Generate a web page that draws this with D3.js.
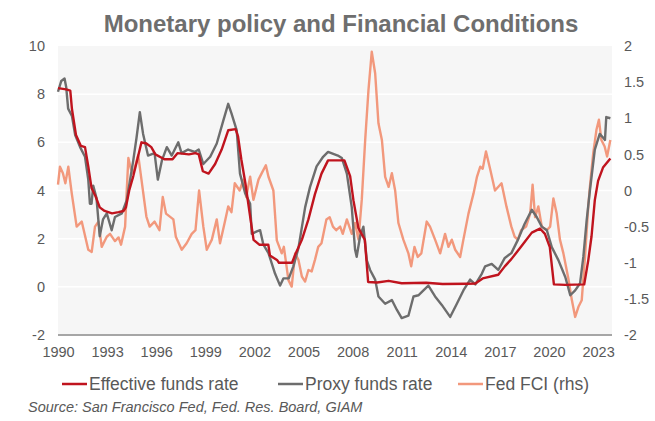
<!DOCTYPE html>
<html>
<head>
<meta charset="utf-8">
<script src="https://cdn.jsdelivr.net/npm/d3@7"></script>
<style>
  html, body { margin: 0; padding: 0; background: #ffffff; }
  svg { display: block; font-family: "Liberation Sans", Arial, sans-serif; }
</style>
</head>
<body>
<svg id="chart" width="655" height="421"></svg>
<script>
// Axis ticks
const yearTicks = [1990, 1993, 1996, 1999, 2002, 2005, 2008, 2011, 2014, 2017, 2020, 2023];
const leftTicks = [-2, 0, 2, 4, 6, 8, 10];
const rightTicks = [-2, -1.5, -1, -0.5, 0, 0.5, 1, 1.5, 2];

// Effective federal funds rate (%, left axis)
const effDates = [1990.0, 1990.5, 1990.75, 1990.85, 1991.1, 1991.4, 1991.65, 1991.85, 1992.05, 1992.3,
  1992.55, 1992.85, 1993.3, 1993.7, 1994.0, 1994.15, 1994.35, 1994.6, 1994.85, 1995.1,
  1995.4, 1995.7, 1995.95, 1996.5, 1997.0, 1997.3, 1998.0, 1998.4, 1998.6, 1998.85,
  1999.2, 1999.6, 2000.0, 2000.4, 2000.85, 2001.0, 2001.2, 2001.45, 2001.7, 2001.95,
  2002.3, 2002.85, 2002.95, 2003.4, 2003.5, 2004.3, 2004.5, 2004.9, 2005.3, 2005.7,
  2006.1, 2006.5, 2007.5, 2007.85, 2008.05, 2008.35, 2008.75, 2008.95, 2009.5, 2010.2,
  2011.0, 2012.5, 2013.5, 2015.0, 2015.5, 2015.95, 2016.9, 2017.3, 2017.7, 2018.1,
  2018.5, 2018.95, 2019.45, 2019.75, 2020.05, 2020.3, 2021.0, 2022.15, 2022.4, 2022.6,
  2022.8, 2023.0, 2023.3, 2023.75];
const effValues = [8.25, 8.2, 8.15, 7.4, 6.3, 5.85, 5.8, 5.0, 4.1, 3.75,
  3.3, 3.15, 3.05, 3.1, 3.15, 3.3, 4.0, 4.6, 5.3, 6.0,
  5.95, 5.8, 5.5, 5.3, 5.3, 5.55, 5.5, 5.55, 5.5, 4.8,
  4.7, 5.1, 5.7, 6.5, 6.55, 6.25, 5.3, 4.3, 3.1, 1.95,
  1.75, 1.75, 1.3, 1.1, 1.0, 1.0, 1.35, 1.95, 2.8, 3.85,
  4.7, 5.25, 5.25, 4.6, 3.6, 2.45, 1.95, 0.2, 0.18, 0.25,
  0.15, 0.17, 0.12, 0.13, 0.14, 0.35, 0.5, 0.85, 1.15, 1.5,
  1.85, 2.25, 2.42, 2.2, 1.65, 0.1, 0.08, 0.1, 1.1, 2.1,
  3.6, 4.4, 4.95, 5.33];

// Proxy funds rate (%, left axis)
const proxyDates = [1990.0, 1990.2, 1990.4, 1990.5, 1990.62, 1990.85, 1991.05, 1991.35, 1991.65, 1991.85,
  1991.95, 1992.05, 1992.15, 1992.35, 1992.55, 1992.75, 1992.98, 1993.28, 1993.48, 1993.9,
  1994.2, 1994.6, 1994.8, 1995.0, 1995.2, 1995.5, 1995.9, 1996.1, 1996.35, 1996.65,
  1996.95, 1997.35, 1997.55, 1997.95, 1998.35, 1998.6, 1998.88, 1999.3, 1999.7, 2000.1,
  2000.4, 2000.6, 2000.92, 2001.12, 2001.43, 2001.74, 2001.84, 2002.15, 2002.35, 2002.55,
  2002.86, 2003.26, 2003.57, 2003.77, 2004.1, 2004.38, 2004.69, 2005.1, 2005.4, 2005.8,
  2006.2, 2006.5, 2007.1, 2007.34, 2007.65, 2007.95, 2008.15, 2008.25, 2008.46, 2008.66,
  2008.87, 2009.07, 2009.38, 2009.58, 2009.99, 2010.4, 2010.7, 2011.0, 2011.41, 2011.72,
  2012.02, 2012.33, 2012.63, 2013.04, 2013.45, 2013.96, 2014.37, 2014.77, 2015.18, 2015.5,
  2015.9, 2016.1, 2016.5, 2016.9, 2017.3, 2017.7, 2018.1, 2018.5, 2018.95, 2019.25,
  2019.56, 2019.87, 2020.17, 2020.58, 2021.0, 2021.3, 2021.6, 2021.9, 2022.1, 2022.3,
  2022.5, 2022.8, 2023.1, 2023.3, 2023.42, 2023.5, 2023.75];
const proxyValues = [8.1, 8.55, 8.65, 8.3, 7.4, 7.1, 6.3, 5.8, 5.4, 4.45,
  3.45, 3.45, 4.2, 3.7, 2.1, 2.8, 3.05, 2.35, 2.9, 3.05,
  3.6, 5.25, 6.2, 7.25, 6.35, 5.45, 5.55, 4.45, 5.25, 5.8,
  5.45, 6.0, 5.55, 5.7, 5.6, 5.7, 5.1, 5.4, 5.95, 6.9,
  7.6, 7.2, 6.5, 4.7, 3.9, 3.45, 2.2, 2.3, 2.35, 1.75,
  1.4, 0.55, 0.05, 0.35, 0.35, 0.85, 1.6, 3.3, 4.15, 5.0,
  5.4, 5.6, 5.45, 5.35, 4.7, 3.3, 1.55, 1.25, 2.1, 2.5,
  1.1, 0.7, 0.3, -0.4, -0.7, -0.55, -0.95, -1.3, -1.2, -0.4,
  -0.35, -0.15, 0.05, -0.4, -0.75, -1.25, -0.7, -0.15, 0.3, 0.1,
  0.55, 0.85, 0.95, 0.7, 1.2, 1.4, 1.95, 2.6, 3.2, 2.9,
  2.5, 2.35, 1.65, 1.1, 0.4, -0.35, -0.15, 0.15, 1.25, 2.75,
  4.0, 5.7, 6.35, 6.2, 6.1, 7.05, 7.0];

// Fed financial conditions index (right axis)
const fciDates = [1990.0, 1990.12, 1990.3, 1990.45, 1990.63, 1990.84, 1991.14, 1991.45, 1991.85, 1992.06,
  1992.26, 1992.47, 1992.67, 1992.98, 1993.18, 1993.48, 1993.7, 1993.85, 1994.1, 1994.2,
  1994.3, 1994.45, 1994.6, 1994.9, 1995.1, 1995.4, 1995.6, 1995.9, 1996.2, 1996.4,
  1996.6, 1997.05, 1997.2, 1997.56, 1997.86, 1998.17, 1998.4, 1998.62, 1998.88, 1999.09,
  1999.4, 1999.7, 1999.9, 2000.2, 2000.4, 2000.6, 2000.8, 2001.1, 2001.33, 2001.5,
  2001.74, 2001.94, 2002.25, 2002.45, 2002.7, 2002.86, 2003.16, 2003.37, 2003.67, 2003.8,
  2004.08, 2004.28, 2004.49, 2004.69, 2004.9, 2005.1, 2005.3, 2005.5, 2005.7, 2005.9,
  2006.1, 2006.4, 2006.6, 2006.8, 2007.0, 2007.24, 2007.4, 2007.65, 2007.95, 2008.15,
  2008.36, 2008.56, 2008.77, 2008.97, 2009.17, 2009.38, 2009.58, 2009.79, 2009.99, 2010.2,
  2010.4, 2010.6, 2010.8, 2011.1, 2011.41, 2011.58, 2011.78, 2011.98, 2012.2, 2012.53,
  2012.73, 2013.04, 2013.35, 2013.65, 2013.86, 2014.06, 2014.27, 2014.57, 2014.77, 2015.08,
  2015.39, 2015.6, 2015.8, 2015.95, 2016.15, 2016.4, 2016.7, 2017.1, 2017.4, 2017.7,
  2017.9, 2018.1, 2018.3, 2018.6, 2018.85, 2019.0, 2019.15, 2019.35, 2019.56, 2019.87,
  2020.07, 2020.27, 2020.47, 2020.67, 2020.88, 2021.2, 2021.4, 2021.6, 2021.8, 2022.0,
  2022.2, 2022.4, 2022.5, 2022.7, 2022.9, 2023.05, 2023.2, 2023.4, 2023.55, 2023.75];
const fciValues = [0.08, 0.33, 0.24, 0.1, 0.33, -0.04, -0.5, -0.43, -0.82, -0.85,
  -0.5, -0.43, -0.78, -0.64, -0.6, -0.7, -0.65, -0.75, -0.5, 0.0,
  0.45, 0.3, 0.24, 0.49, 0.15, -0.36, -0.5, -0.43, -0.55, -0.09,
  -0.32, -0.4, -0.64, -0.82, -0.73, -0.6, -0.55, 0.0, -0.5, -0.82,
  -0.68, -0.4, -0.73, -0.43, -0.22, -0.3, 0.1, 0.0, 0.15, -0.09,
  0.19, -0.13, 0.15, 0.24, 0.35, 0.19, 0.0, -0.69, -0.87, -0.78,
  -1.24, -1.33, -0.87, -0.96, -1.19, -1.26, -1.1, -1.12, -0.96, -0.78,
  -0.73, -0.4, -0.37, -0.5, -0.55, -0.5, -0.6, -0.4, -0.6, -0.45,
  -0.68, -0.13, 0.7, 1.39, 1.92, 1.62, 0.93, 0.7, 0.19, 0.05,
  0.24, 0.0, -0.45, -0.68, -0.87, -1.05, -0.78, -0.92, -0.87, -0.43,
  -0.5, -0.68, -0.87, -0.6, -0.78, -0.68, -0.82, -0.92, -0.68, -0.32,
  -0.04, 0.19, 0.33, 0.3, 0.54, 0.3, 0.0, 0.1, -0.22, -0.5,
  -0.64, -0.68, -0.55, -0.5, -0.32, 0.08, -0.37, -0.22, -0.5, -0.55,
  -0.5, -0.11, -0.32, -0.68, -0.87, -1.24, -1.52, -1.75, -1.61, -1.52,
  -0.92, -0.22, 0.05, 0.51, 0.84, 0.98, 0.7, 0.61, 0.47, 0.7];

const seriesNames = ["Effective funds rate", "Proxy funds rate", "Fed FCI (rhs)"];
const seriesColors = ["#c0141e", "#6d6d6d", "#f2987c"];

const svg = d3.select("#chart");
const textColor = "#595959";
const tickFont = 14.5;

const x = d3.scaleLinear().domain([1990, 2023.85]).range([58, 612]);
const yL = d3.scaleLinear().domain([-2, 10]).range([335, 46]);
const yR = d3.scaleLinear().domain([-2, 2]).range([335, 46]);

// Title
svg.append("text")
  .attr("x", 341).attr("y", 32)
  .attr("text-anchor", "middle")
  .attr("font-size", 24).attr("font-weight", "bold")
  .attr("fill", "#6e6e6e")
  .text("Monetary policy and Financial Conditions");

// Plot background
svg.append("rect")
  .attr("x", x(1990)).attr("y", yL(10))
  .attr("width", x(2023.85) - x(1990)).attr("height", yL(-2) - yL(10))
  .attr("fill", "#f6f6f6");

// Horizontal gridlines
svg.append("g")
  .selectAll("line")
  .data(leftTicks.filter(d => d > -2 && d < 10))
  .join("line")
  .attr("x1", x(1990)).attr("x2", x(2023.85))
  .attr("y1", d => yL(d)).attr("y2", d => yL(d))
  .attr("stroke", "#ffffff").attr("stroke-width", 1.5);

// Left axis
const gL = svg.append("g").attr("transform", `translate(${x(1990)},0)`)
  .call(d3.axisLeft(yL).tickValues(leftTicks).tickSize(0).tickPadding(13).tickFormat(d => String(d)));
gL.select(".domain").remove();
gL.selectAll("text").attr("font-size", tickFont).attr("fill", textColor).attr("font-family", "Liberation Sans, Arial, sans-serif");

// Right axis
const gR = svg.append("g").attr("transform", `translate(${x(2023.85)},0)`)
  .call(d3.axisRight(yR).tickValues(rightTicks).tickSize(0).tickPadding(12).tickFormat(d => String(d)));
gR.select(".domain").remove();
gR.selectAll("text").attr("font-size", tickFont).attr("fill", textColor).attr("font-family", "Liberation Sans, Arial, sans-serif");

// Bottom axis
const gB = svg.append("g").attr("transform", `translate(0,${yL(-2)})`)
  .call(d3.axisBottom(x).tickValues(yearTicks).tickSize(0).tickPadding(12).tickFormat(d => String(d)));
gB.select(".domain").attr("stroke", "#a6a6a6").attr("stroke-width", 2)
  .attr("d", `M${x(1990)},0H${x(2023.85)}`);
gB.selectAll("text").attr("font-size", tickFont).attr("fill", textColor).attr("font-family", "Liberation Sans, Arial, sans-serif");

// Series lines
const lineL = d3.line().x(d => x(d[0])).y(d => yL(d[1]));
const lineR = d3.line().x(d => x(d[0])).y(d => yR(d[1]));

const fciData = d3.zip(fciDates, fciValues);
const proxyData = d3.zip(proxyDates, proxyValues);
const effData = d3.zip(effDates, effValues);

svg.append("path").datum(fciData).attr("d", lineR)
  .attr("fill", "none").attr("stroke", seriesColors[2]).attr("stroke-width", 2.4).attr("stroke-linejoin", "round");
svg.append("path").datum(proxyData).attr("d", lineL)
  .attr("fill", "none").attr("stroke", seriesColors[1]).attr("stroke-width", 2.4).attr("stroke-linejoin", "round");
svg.append("path").datum(effData).attr("d", lineL)
  .attr("fill", "none").attr("stroke", seriesColors[0]).attr("stroke-width", 2.4).attr("stroke-linejoin", "round");

// Legend
const legendX = [62, 278, 458];
const legend = svg.append("g");
seriesNames.forEach((name, i) => {
  legend.append("line")
    .attr("x1", legendX[i]).attr("x2", legendX[i] + 25)
    .attr("y1", 384).attr("y2", 384)
    .attr("stroke", seriesColors[i]).attr("stroke-width", 2.5);
  legend.append("text")
    .attr("x", legendX[i] + 27).attr("y", 390)
    .attr("font-size", 17.5).attr("fill", textColor)
    .text(name);
});

// Source note
svg.append("text")
  .attr("x", 28).attr("y", 412)
  .attr("font-size", 14.5).attr("font-style", "italic").attr("fill", textColor)
  .text("Source: San Francisco Fed, Fed. Res. Board, GIAM");
</script>
</body>
</html>
